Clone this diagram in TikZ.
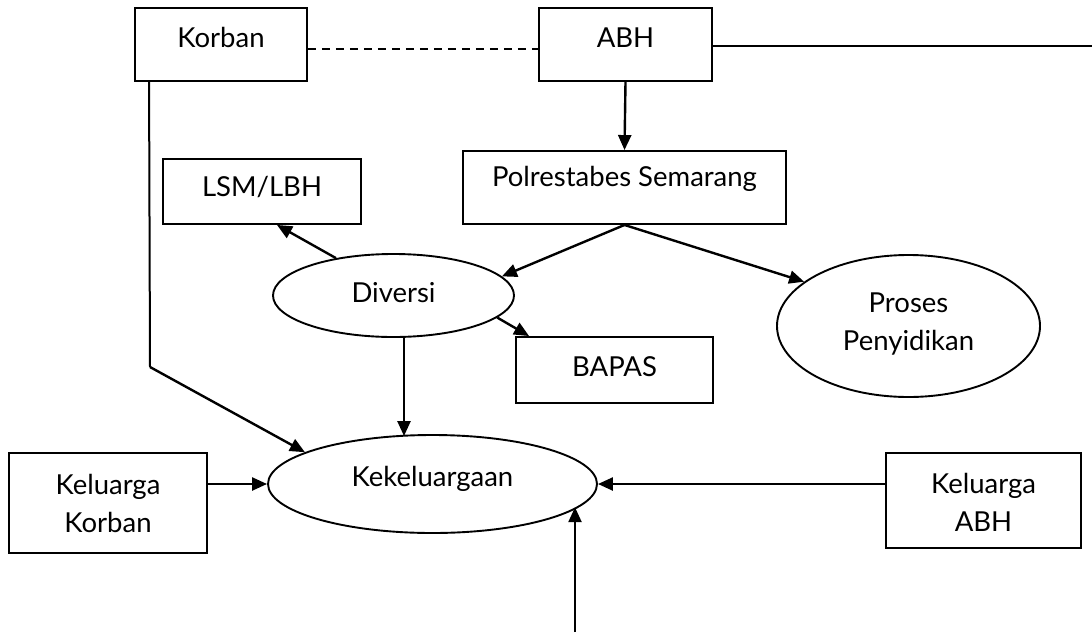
\documentclass[tikz,border=0pt]{standalone}
\usepackage{fontspec}
\setmainfont{Lato}
\usetikzlibrary{arrows.meta,calc,shapes.geometric}
\begin{document}
\begin{tikzpicture}[x=1pt,y=-1pt,
  box/.style={draw,line width=1.9pt,rectangle,inner sep=0pt},
  oval/.style={draw,line width=1.9pt,ellipse,inner sep=0pt},
  lbl/.style={font=\fontsize{27.5}{38}\selectfont,align=center,inner sep=0pt},
  arr/.style={line width=2.4pt,-{Triangle[length=15pt,width=13pt]}},
  ln/.style={line width=2pt}]
\useasboundingbox (0,0) rectangle (1092,632);
\node[box,minimum width=172pt,minimum height=73pt,label={[lbl,yshift=7pt]center:Korban}] (korban) at (221,44.5) {};
\node[box,minimum width=173pt,minimum height=73pt,label={[lbl,yshift=7pt]center:ABH}] (abh) at (625.5,44.5) {};
\node[box,minimum width=323pt,minimum height=73pt,label={[lbl,yshift=9pt]center:Polrestabes Semarang}] (polres) at (624.5,187.5) {};
\node[box,minimum width=198pt,minimum height=65pt,label={[lbl,yshift=5pt]center:LSM/LBH}] (lsm) at (262,191.5) {};
\node[oval,minimum width=241pt,minimum height=83pt,label={[lbl,yshift=3pt]center:Diversi}] (diversi) at (393.5,295.5) {};
\node[box,minimum width=197pt,minimum height=66pt,label={[lbl,yshift=3pt]center:BAPAS}] (bapas) at (614.5,370) {};
\node[oval,minimum width=263pt,minimum height=142pt,label={[lbl,yshift=2pt]center:Proses\\Penyidikan}] (proses) at (908.5,326) {};
\node[oval,minimum width=329pt,minimum height=98pt,label={[lbl,yshift=5pt]center:Kekeluargaan}] (kek) at (432.5,484) {};
\node[box,minimum width=198pt,minimum height=100pt,label={[lbl]center:Keluarga\\Korban}] (kk) at (108,503) {};
\node[box,minimum width=195pt,minimum height=95pt,label={[lbl,yshift=-2pt]center:Keluarga\\ABH}] (ka) at (983.5,500.5) {};
\coordinate (rend) at (1092,46);
\coordinate (kbend) at (150,367);
\coordinate (bot) at (575,632);
% connectors
\draw[ln,dashed,dash pattern=on 8pt off 6pt] ($(korban.east)+(0,4.5)$) -- ($(abh.west)+(0,4.5)$);
\draw[ln] (abh.east |- rend) -- (rend);
\draw[arr] (abh.south) -- (polres.north);
\draw[ln] ($(korban.south west)+(15,0)$) -- (kbend);
\draw[arr] (kbend) -- (kek.166);
\draw[arr] (polres.south) -- (diversi.10);
\draw[arr] (polres.south) -- (proses.157);
\draw[arr] (diversi.147) -- ($(lsm.south)+(15,0)$);
\draw[arr] (diversi.-12) -- ($(bapas.north west)+(14,0)$);
\draw[arr] ($(diversi.south)+(10.5,0)$) -- ($(kek.north)+(-28.5,2)$);
\draw[arr] (kk.east |- kek.west) -- (kek.west);
\draw[arr] (ka.west |- kek.east) -- (kek.east);
\draw[arr] (bot) -- (kek.-9.8 -| bot);
\end{tikzpicture}
\end{document}
